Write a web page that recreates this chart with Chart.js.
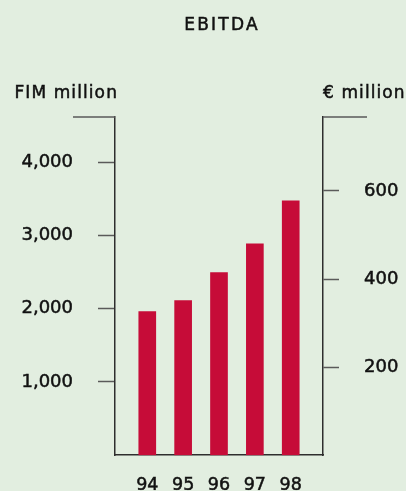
<!DOCTYPE html>
<html>
<head>
<meta charset="utf-8">
<script src="https://cdn.jsdelivr.net/npm/chart.js@4.4.1/dist/chart.umd.min.js"></script>
<style>
  html, body { margin: 0; padding: 0; background: #e2eee0; }
  canvas { display: block; }
</style>
</head>
<body>
<canvas id="ebitdaChart" width="406" height="491"></canvas>
<script>
var years = [94, 95, 96, 97, 98];
var ebitdaFim = [1962, 2112, 2494, 2889, 3475];
var fimTicks = [1000, 2000, 3000, 4000];
var euroTicks = [200, 400, 600];
var fimMax = 4620;
var euroMax = 768;
var chartTitle = 'EBITDA';
var leftUnit = 'FIM million';
var rightUnit = '\u20AC million';

var axisColor = '#2e2e2e';
var tickColor = '#5a5a5a';
var textColor = '#111111';
var textStroke = 0.5;   // text in the original is a bit heavier than DejaVu Book

// title, unit captions and the small ledges on top of both axes
var captions = {
    id: 'captions',
    afterDraw: function(chart) {
        var ctx = chart.ctx;
        var area = chart.chartArea;
        var left = chart.scales.y, right = chart.scales.y1;
        ctx.save();
        ctx.strokeStyle = tickColor;
        ctx.lineWidth = 1.5;
        ctx.beginPath();
        ctx.moveTo(left.right - 42, area.top);
        ctx.lineTo(left.right, area.top);
        ctx.moveTo(right.left, area.top);
        ctx.lineTo(right.left + 44, area.top);
        ctx.stroke();

        function txt(s, x, y) {
            ctx.fillText(s, x, y);
            ctx.strokeText(s, x, y);
        }
        ctx.fillStyle = textColor;
        ctx.strokeStyle = textColor;
        ctx.lineWidth = textStroke;
        ctx.textBaseline = 'alphabetic';
        ctx.font = '17px "DejaVu Sans"';
        ctx.letterSpacing = '2.2px';
        ctx.textAlign = 'center';
        txt(chartTitle, (area.left + area.right) / 2 + 3, 29.5);

        ctx.font = '17px "DejaVu Sans"';
        ctx.letterSpacing = '1.1px';
        ctx.textAlign = 'right';
        txt(leftUnit, left.right + 3, 98);
        ctx.textAlign = 'left';
        txt(rightUnit, right.left, 98);
        ctx.restore();
    }
};

var ctx = document.getElementById('ebitdaChart').getContext('2d');
var chart = new Chart(ctx, {
    type: 'bar',
    data: {
        datasets: [{
            label: chartTitle,
            data: years.map(function(y, i) { return {x: y, y: ebitdaFim[i]}; }),
            backgroundColor: '#c60c38',
            borderWidth: 0,
            barThickness: 17,
            yAxisID: 'y'
        }]
    },
    options: {
        responsive: false,
        animation: false,
        layout: { padding: { top: 117, left: 0, right: 0, bottom: 0 } },
        plugins: {
            legend: { display: false },
            title: { display: false },
            tooltip: { enabled: false }
        },
        scales: {
            x: {
                type: 'linear',
                offset: false,
                min: years[0] - 0.9,
                max: years[years.length - 1] + 0.9,
                afterBuildTicks: function(scale) {
                    scale.ticks = years.map(function(v) { return {value: v}; });
                },
                afterFit: function(scale) { scale.height = 35; },
                grid: { display: false, drawTicks: false, offset: false },
                border: { display: true, color: axisColor, width: 1.5 },
                ticks: {
                    color: textColor,
                    textStrokeColor: textColor,
                    textStrokeWidth: textStroke,
                    padding: 20,
                    maxRotation: 0,
                    autoSkip: false,
                    font: { family: 'DejaVu Sans', size: 17.5 },
                    callback: function(v) { return String(v); }
                }
            },
            y: {
                position: 'left',
                min: 0,
                max: fimMax,
                afterBuildTicks: function(scale) {
                    scale.ticks = fimTicks.map(function(v) { return {value: v}; });
                },
                afterFit: function(scale) { scale.width = 115; },
                grid: { drawOnChartArea: false, tickLength: 17, tickColor: tickColor, tickWidth: 1.5 },
                border: { display: true, color: axisColor, width: 1.5 },
                ticks: {
                    color: textColor,
                    textStrokeColor: textColor,
                    textStrokeWidth: textStroke,
                    padding: 25,
                    font: { family: 'DejaVu Sans', size: 18 },
                    callback: function(v) { return v.toLocaleString('en-US'); }
                }
            },
            y1: {
                position: 'right',
                min: 0,
                max: euroMax,
                afterBuildTicks: function(scale) {
                    scale.ticks = euroTicks.map(function(v) { return {value: v}; });
                },
                afterFit: function(scale) { scale.width = 83; },
                grid: { drawOnChartArea: false, tickLength: 16, tickColor: tickColor, tickWidth: 1.5 },
                border: { display: true, color: axisColor, width: 1.5 },
                ticks: {
                    color: textColor,
                    textStrokeColor: textColor,
                    textStrokeWidth: textStroke,
                    padding: 25,
                    font: { family: 'DejaVu Sans', size: 18 },
                    callback: function(v) { return String(v); }
                }
            }
        }
    },
    plugins: [captions]
});
</script>
</body>
</html>
